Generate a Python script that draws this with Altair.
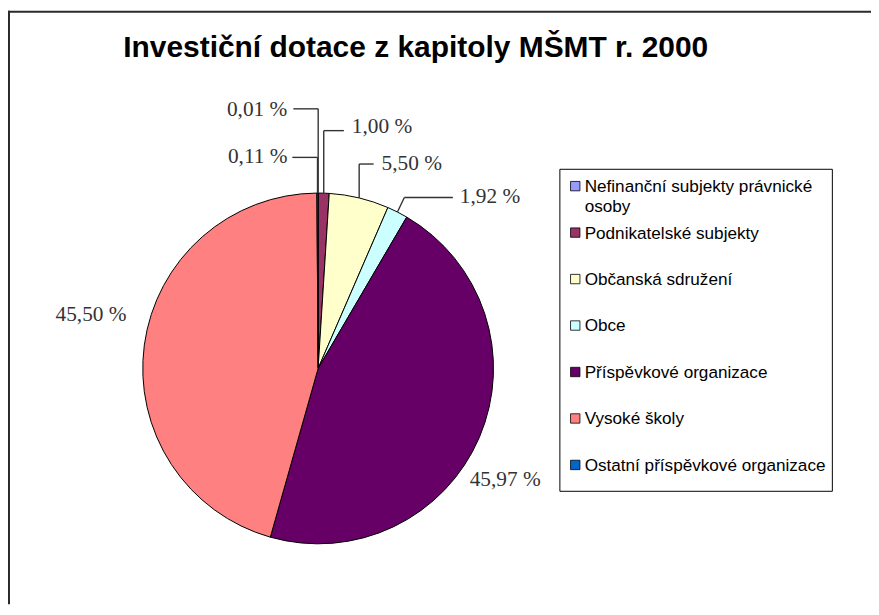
import math
import altair as alt
import pandas as pd

# ---------------- data ----------------
CATEGORIES = [
    "Nefinanční subjekty právnické osoby",
    "Podnikatelské subjekty",
    "Občanská sdružení",
    "Obce",
    "Příspěvkové organizace",
    "Vysoké školy",
    "Ostatní příspěvkové organizace",
]
LEGEND_LABELS = [
    "Nefinanční subjekty právnické\nosoby",
    "Podnikatelské subjekty",
    "Občanská sdružení",
    "Obce",
    "Příspěvkové organizace",
    "Vysoké školy",
    "Ostatní příspěvkové organizace",
]
SHARES = [0.01, 1.00, 5.50, 1.92, 45.97, 45.50, 0.11]
COLORS = ["#9999FF", "#993366", "#FFFFCC", "#CCFFFF", "#660066", "#FF8080", "#0066CC"]
TITLE = "Investiční dotace z kapitoly MŠMT r. 2000"

# ---------------- layout (view pixels) ----------------
W, H = 871, 599
CX, CY, R = 313, 361, 177
LABEL_X = [221, 347, 377, 456, 466, 48, 222]
LABEL_Y = [106, 123.7, 161, 194, 480, 313, 154]
# leader lines for small slices: (elbow_x or None -> vertical, line_y, end_x)
LEADERS = {
    0: (None, 99, 288),
    1: (None, 121, 339),
    2: (None, 154.7, 369),
    3: (400, 188.5, 449),
    6: (None, 148, 287),
}

def fmt(v):
    return f"{v:.2f}".replace(".", ",") + " %"

pie_df = pd.DataFrame({
    "cat": CATEGORIES,
    "share": SHARES,
    "i": list(range(len(CATEGORIES))),
    "label": [fmt(v) for v in SHARES],
    "legend": LEGEND_LABELS,
    "lx": LABEL_X,
    "ly": LABEL_Y,
})

# leader segments computed from slice mid-angles
total = sum(SHARES)
cum = 0.0
segs = []
for i, v in enumerate(SHARES):
    mid = 2 * math.pi * (cum + v / 2) / total
    cum += v
    if i in LEADERS:
        ex, ly, endx = LEADERS[i]
        ax = CX + R * math.sin(mid)
        ay = CY - R * math.cos(mid)
        elx = ax if ex is None else ex
        segs.append({"x": ax, "y": ay, "x2": elx, "y2": ly})
        segs.append({"x": elx, "y": ly, "x2": endx, "y2": ly})
seg_df = pd.DataFrame(segs)

one = pd.DataFrame({"t": [TITLE]})

color = alt.Color("cat:N", scale=alt.Scale(domain=CATEGORIES, range=COLORS), legend=None)

frame_top = alt.Chart(one).mark_rule(color="#2a2a2a", strokeWidth=2).encode(
    x=alt.value(0), x2=alt.value(W), y=alt.value(1))
frame_left = alt.Chart(one).mark_rule(color="#2a2a2a", strokeWidth=2).encode(
    x=alt.value(1), y=alt.value(0), y2=alt.value(H))

title = alt.Chart(one).mark_text(
    font="Liberation Sans", fontWeight="bold", fontSize=30.2,
    align="center", baseline="alphabetic", color="black"
).encode(text="t:N", x=alt.value(411.5), y=alt.value(46.5))

pie = alt.Chart(pie_df).mark_arc(radius=R, stroke="black", strokeWidth=1).encode(
    theta=alt.Theta("share:Q", stack=True),
    order=alt.Order("i:Q"),
    color=color,
    x=alt.value(CX), y=alt.value(CY),
)

leaders = alt.Chart(seg_df).mark_rule(color="#333333", strokeWidth=1.4).encode(
    x=alt.X("x:Q", scale=None, axis=None),
    y=alt.Y("y:Q", scale=None, axis=None),
    x2="x2:Q", y2="y2:Q",
)

labels = alt.Chart(pie_df).mark_text(
    font="Liberation Serif", fontSize=21.5, align="left", baseline="alphabetic", color="#333333"
).encode(
    x=alt.X("lx:Q", scale=None, axis=None),
    y=alt.Y("ly:Q", scale=None, axis=None),
    text="label:N",
)

legend_box = alt.Chart(one).mark_rect(fill="white", stroke="black", strokeWidth=1).encode(
    x=alt.value(557), x2=alt.value(832), y=alt.value(160), y2=alt.value(485))

swatches = alt.Chart(pie_df).transform_calculate(
    sy="177 + datum.i * 46.9"
).mark_square(size=90, opacity=1, stroke="black", strokeWidth=0.8).encode(
    x=alt.value(572.5),
    y=alt.Y("sy:Q", scale=None, axis=None),
    color=color,
)

legend_text = alt.Chart(pie_df).transform_calculate(
    ty="183 + datum.i * 46.9"
).mark_text(
    font="Liberation Sans", fontSize=17.3, align="left", baseline="alphabetic",
    color="black", lineBreak="\n", lineHeight=20
).encode(
    x=alt.value(582),
    y=alt.Y("ty:Q", scale=None, axis=None),
    text="legend:N",
)

chart = alt.layer(
    frame_top, frame_left, title, pie, leaders, labels, legend_box, swatches, legend_text
).properties(
    width=W, height=H, padding=0,
    autosize=alt.AutoSizeParams(type="none"),
    background="white",
).configure_view(stroke=None)

chart.save("out.html", embed_options={"renderer": "svg", "actions": False})
